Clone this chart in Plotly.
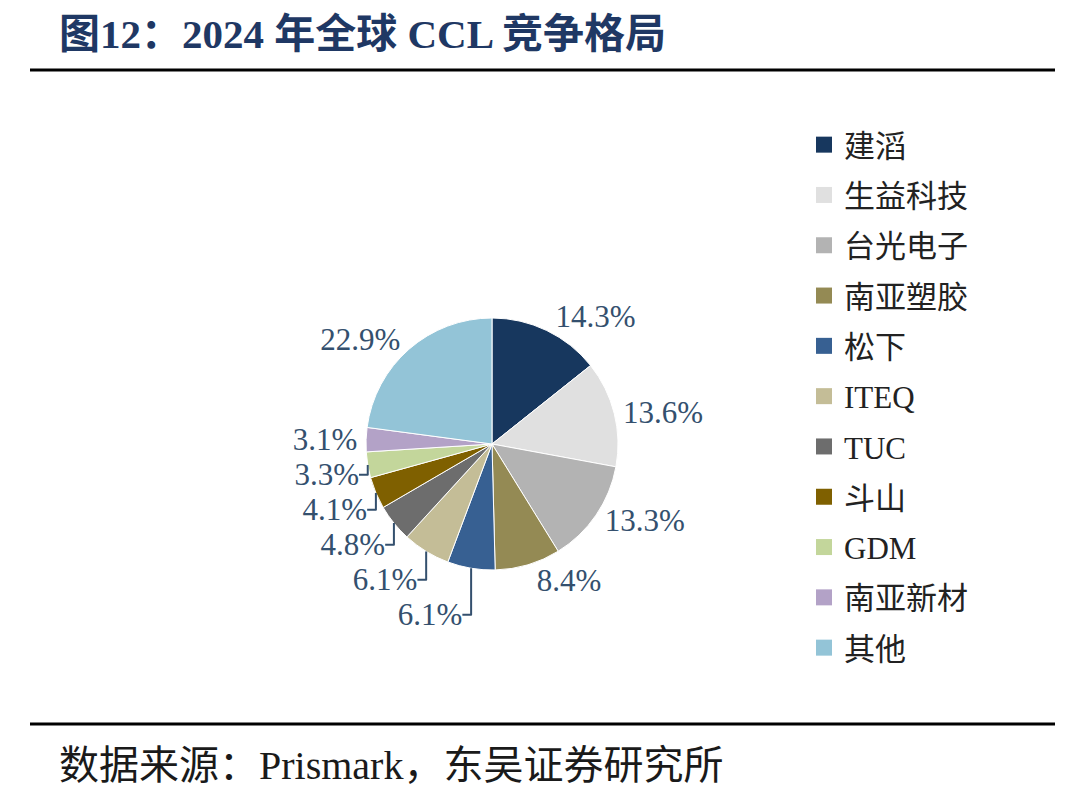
import plotly.graph_objects as go

W, H = 1080, 796

companies = ["建滔", "生益科技", "台光电子", "南亚塑胶", "松下", "ITEQ", "TUC", "斗山", "GDM", "南亚新材", "其他"]
shares = [14.3, 13.6, 13.3, 8.4, 6.1, 6.1, 4.8, 4.1, 3.3, 3.1, 22.9]
colors = ["#17375E", "#E0E0E0", "#B3B3B3", "#948A54", "#376092", "#C4BD97",
          "#6D6D6D", "#7F6000", "#C3D69B", "#B3A2C7", "#93C4D7"]
label_text = [f"{v:.1f}%" for v in shares]

title_text = "图12：2024 年全球 CCL 竞争格局"
source_text = "数据来源：Prismark，东吴证券研究所"

serif = "Liberation Serif, Times New Roman, Noto Sans CJK SC, serif"

cx, cy, r = 492, 444, 126

fig = go.Figure()
fig.add_trace(go.Pie(
    labels=companies,
    values=shares,
    text=label_text,
    textinfo="text",
    textposition="outside",
    sort=False,
    direction="clockwise",
    rotation=0,
    marker=dict(colors=colors, line=dict(color="white", width=1)),
    textfont=dict(family=serif, size=31, color="#34506E"),
    showlegend=False,
    domain=dict(x=[(cx - r) / W, (cx + r) / W], y=[(H - cy - r) / H, (H - cy + r) / H]),
    hoverinfo="label+percent",
))

# legend via dummy traces (one group each for spacing)
for i, (name, col) in enumerate(zip(companies, colors)):
    fig.add_trace(go.Scatter(
        x=[None], y=[None], mode="markers", name=name,
        marker=dict(symbol="square", size=17, color=col),
        legendgroup=f"g{i}", showlegend=True,
    ))

fig.update_layout(
    width=W, height=H,
    margin=dict(l=0, r=0, t=0, b=0),
    paper_bgcolor="white", plot_bgcolor="white",
    xaxis=dict(visible=False), yaxis=dict(visible=False),
    legend=dict(
        x=804 / W, y=1 - 118 / H, xanchor="left", yanchor="top",
        font=dict(family=serif, size=31, color="#222222"),
        tracegroupgap=7, bgcolor="rgba(0,0,0,0)",
        itemclick=False, itemdoubleclick=False,
    ),
    annotations=[
        dict(text=title_text, xref="paper", yref="paper", x=57 / W, y=1 - 34 / H,
             xanchor="left", yanchor="middle", showarrow=False,
             font=dict(family=serif, size=41, color="#1F3864", weight="bold")),
        dict(text=source_text, xref="paper", yref="paper", x=57 / W, y=1 - 765 / H,
             xanchor="left", yanchor="middle", showarrow=False,
             font=dict(family=serif, size=40, color="#1A1A1A")),
    ],
    shapes=[
        dict(type="line", xref="paper", yref="paper", x0=30 / W, x1=1055 / W,
             y0=1 - 70 / H, y1=1 - 70 / H, line=dict(color="black", width=3)),
        dict(type="line", xref="paper", yref="paper", x0=30 / W, x1=1055 / W,
             y0=1 - 724 / H, y1=1 - 724 / H, line=dict(color="black", width=3)),
    ],
)

fig.write_html("out.html")
